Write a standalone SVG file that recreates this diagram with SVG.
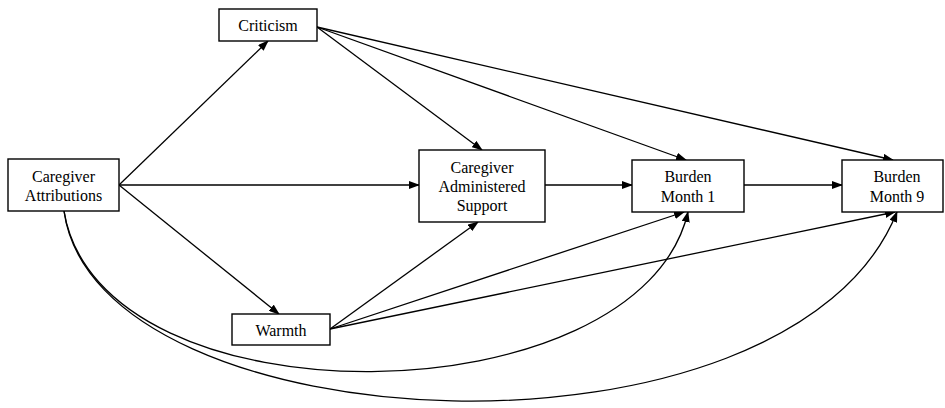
<svg xmlns="http://www.w3.org/2000/svg" width="945" height="408" viewBox="0 0 945 408">
<defs>
<marker id="arr" markerWidth="11" markerHeight="8" refX="10" refY="4" orient="auto" markerUnits="userSpaceOnUse">
<path d="M0,0 L11,4 L0,8 Z" fill="#000"/>
</marker>
<style>
.box{fill:#fff;stroke:#000;stroke-width:1.4}
.t{font-family:"Liberation Serif","Times New Roman",serif;font-size:16px;fill:#000;text-anchor:middle}
.c{fill:none;stroke:#000;stroke-width:1.3;marker-end:url(#arr)}
</style>
</defs>
<rect width="945" height="408" fill="#fff"/>
<g id="connectors">
<path class="c" d="M119,185 L268,41"/>
<path class="c" d="M119,185 L419,185"/>
<path class="c" d="M119,185 L279,314"/>
<path class="c" d="M317,27 L482,150"/>
<path class="c" d="M317,27 L686,160"/>
<path class="c" d="M317,27 L893,160"/>
<path class="c" d="M545,185 L632,185"/>
<path class="c" d="M744,185 L842,185"/>
<path class="c" d="M330,329 L478,222"/>
<path class="c" d="M330,329 L684,212"/>
<path class="c" d="M330,329 L895,212"/>
<path class="c" d="M64,211 C100,430 640,420 688,212"/>
<path class="c" d="M64,211 C96,448 790,480 897,212"/>
</g>
<g id="criticism">
<rect class="box" x="219" y="9" width="98" height="32"/>
<text class="t" x="268" y="31">Criticism</text>
</g>
<g id="attributions">
<rect class="box" x="8" y="159" width="111" height="52"/>
<text class="t" x="63.5" y="182">Caregiver</text>
<text class="t" x="63.5" y="201">Attributions</text>
</g>
<g id="support">
<rect class="box" x="419" y="150" width="126" height="72"/>
<text class="t" x="482" y="173">Caregiver</text>
<text class="t" x="482" y="192">Administered</text>
<text class="t" x="482" y="211">Support</text>
</g>
<g id="burden1">
<rect class="box" x="632" y="160" width="112" height="52"/>
<text class="t" x="688" y="182">Burden</text>
<text class="t" x="688" y="202">Month 1</text>
</g>
<g id="burden9">
<rect class="box" x="842" y="160" width="101" height="52"/>
<text class="t" x="897" y="182">Burden</text>
<text class="t" x="897" y="202">Month 9</text>
</g>
<g id="warmth">
<rect class="box" x="232" y="314" width="98" height="31"/>
<text class="t" x="281" y="336">Warmth</text>
</g>
</svg>
